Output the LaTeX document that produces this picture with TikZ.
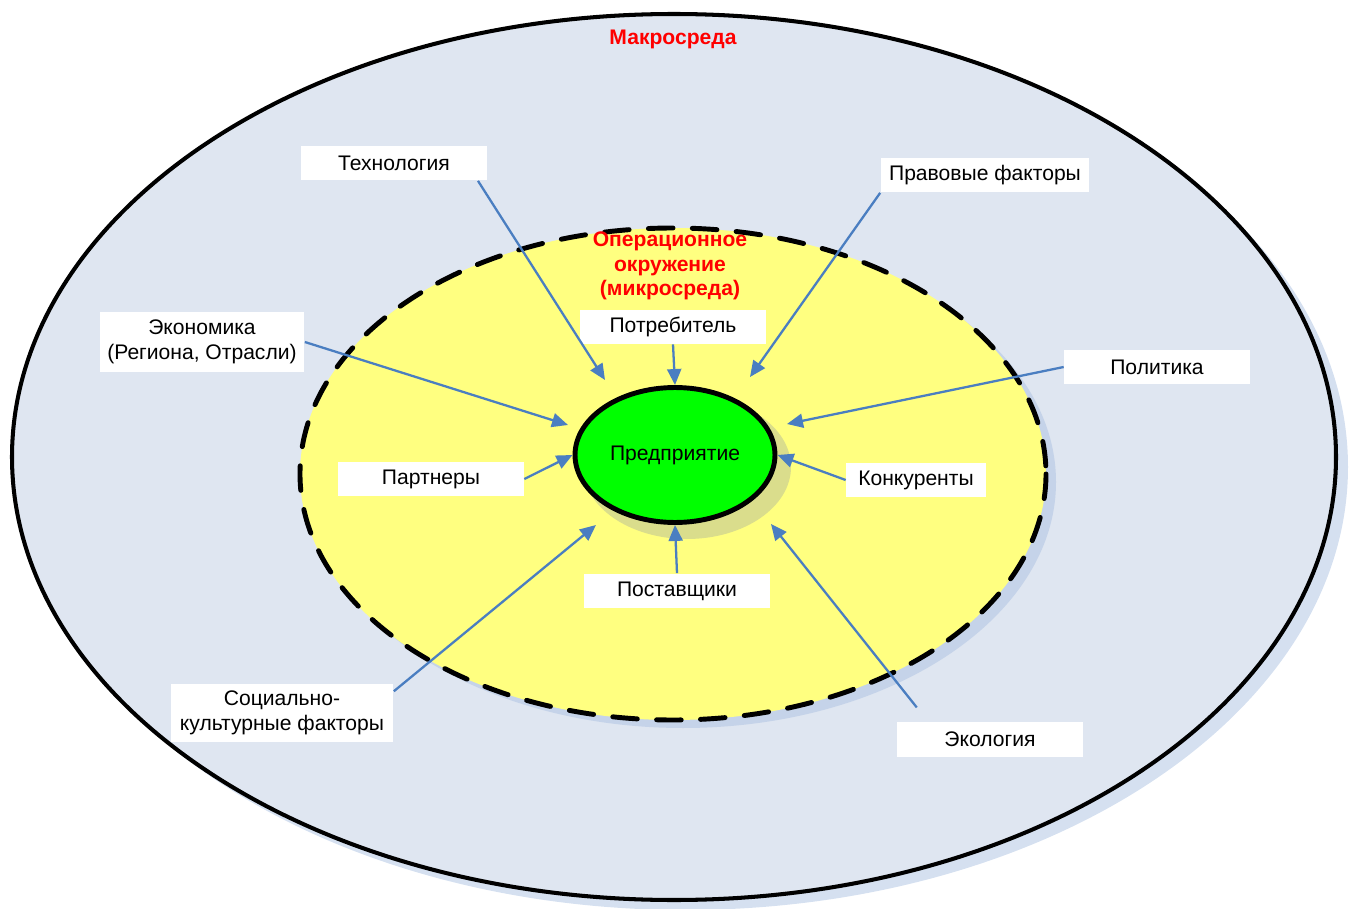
\documentclass[tikz,border=0pt]{standalone}
\usepackage{fontspec}
\setmainfont{Liberation Sans}
\usepackage{tikz}
\usetikzlibrary{arrows.meta, shapes.geometric, positioning}
\definecolor{macrobg}{RGB}{223, 230, 241}
\definecolor{macroshadow}{RGB}{213, 224, 240}
\definecolor{microbg}{RGB}{255, 255, 128}
\definecolor{microshadow}{RGB}{197, 211, 233}
\definecolor{entgreen}{RGB}{0, 255, 0}
\definecolor{entshadow}{RGB}{218, 221, 140}
\definecolor{arrowblue}{RGB}{74, 126, 193}

\begin{document}
\begin{tikzpicture}[
    x=0.02cm, y=-0.02cm,
    labelBox/.style={fill=white, font=\fontsize{12}{14}\selectfont, minimum width=3.72cm, minimum height=0.7cm, inner sep=2pt, align=center},
    titleText/.style={text=red, font=\fontsize{12}{14}\selectfont\bfseries, align=center},
    entEllipse/.style={ellipse, draw=black, line width=2.8pt, fill=entgreen, minimum width=4.0cm, minimum height=2.7cm, inner sep=0pt, font=\fontsize{12}{14}\selectfont},
    forceArrow/.style={draw=arrowblue, line width=1.3pt, -{Triangle[length=3.2mm, width=2.8mm]}}
]
\useasboundingbox (0,0) rectangle (1350,909);

% Macro environment
\fill[macroshadow] (685,467) ellipse [x radius=663, y radius=443];
\filldraw[fill=macrobg, draw=black, line width=2.3pt] (674,457) ellipse [x radius=662, y radius=443];
\node[titleText] (macroTitle) at (673,39) {Макросреда};

% Operational environment (micro)
\fill[microshadow] (683,482) ellipse [x radius=373, y radius=246];
\fill[microbg] (673,474) ellipse [x radius=373, y radius=246];
\draw[line width=2.8pt, line cap=round, dash pattern=on 14pt off 11pt] (673,474) ellipse [x radius=373, y radius=246];
\node[titleText] (microTitle) at (670,266) {Операционное\\окружение\\(микросреда)};

% Enterprise
\fill[entshadow] (687,467) ellipse [x radius=104, y radius=72];
\node[entEllipse] (ent) at (675,455) {Предприятие};

% Factors
\node[labelBox] (tech) at (394,163) {Технология};
\node[labelBox, minimum width=4.18cm] (prav) at (985,175) {Правовые факторы};
\node[labelBox, minimum width=4.1cm, minimum height=1.2cm] (econ) at (202,342) {Экономика\\(Региона, Отрасли)};
\node[labelBox, minimum height=0.68cm] (potr) at (673,327) {Потребитель};
\node[labelBox] (pol) at (1157,367) {Политика};
\node[labelBox] (part) at (431,479) {Партнеры};
\node[labelBox, minimum width=2.8cm] (konk) at (916,480) {Конкуренты};
\node[labelBox] (post) at (677,591) {Поставщики};
\node[labelBox, minimum width=4.46cm, minimum height=1.18cm] (soc) at (282,713) {Социально-\\культурные факторы};
\node[labelBox] (ecol) at (990,739) {Экология};

% Arrow tips near the enterprise
\coordinate (techTip) at (605,380);
\coordinate (pravTip) at (750,377);
\coordinate (econTip) at (568,425);
\coordinate (polTip) at (787,424);
\coordinate (socTip) at (596,525);
\coordinate (ecolTip) at (771,524);

% Influences
\draw[forceArrow] (tech.-12) -- (techTip);
\draw[forceArrow] (prav.south west) -- (pravTip);
\draw[forceArrow] (econ.east) -- (econTip);
\draw[forceArrow] (potr.south) -- (ent.north);
\draw[forceArrow] (pol.west) -- (polTip);
\draw[forceArrow] (part.east) -- (ent.west);
\draw[forceArrow] (konk.west) -- (ent.east);
\draw[forceArrow] (post.north) -- (ent.south);
\draw[forceArrow] (soc.11) -- (socTip);
\draw[forceArrow, shorten <=0.35cm] ([xshift=0.62cm]ecol.north west) -- (ecolTip);

\end{tikzpicture}
\end{document}
